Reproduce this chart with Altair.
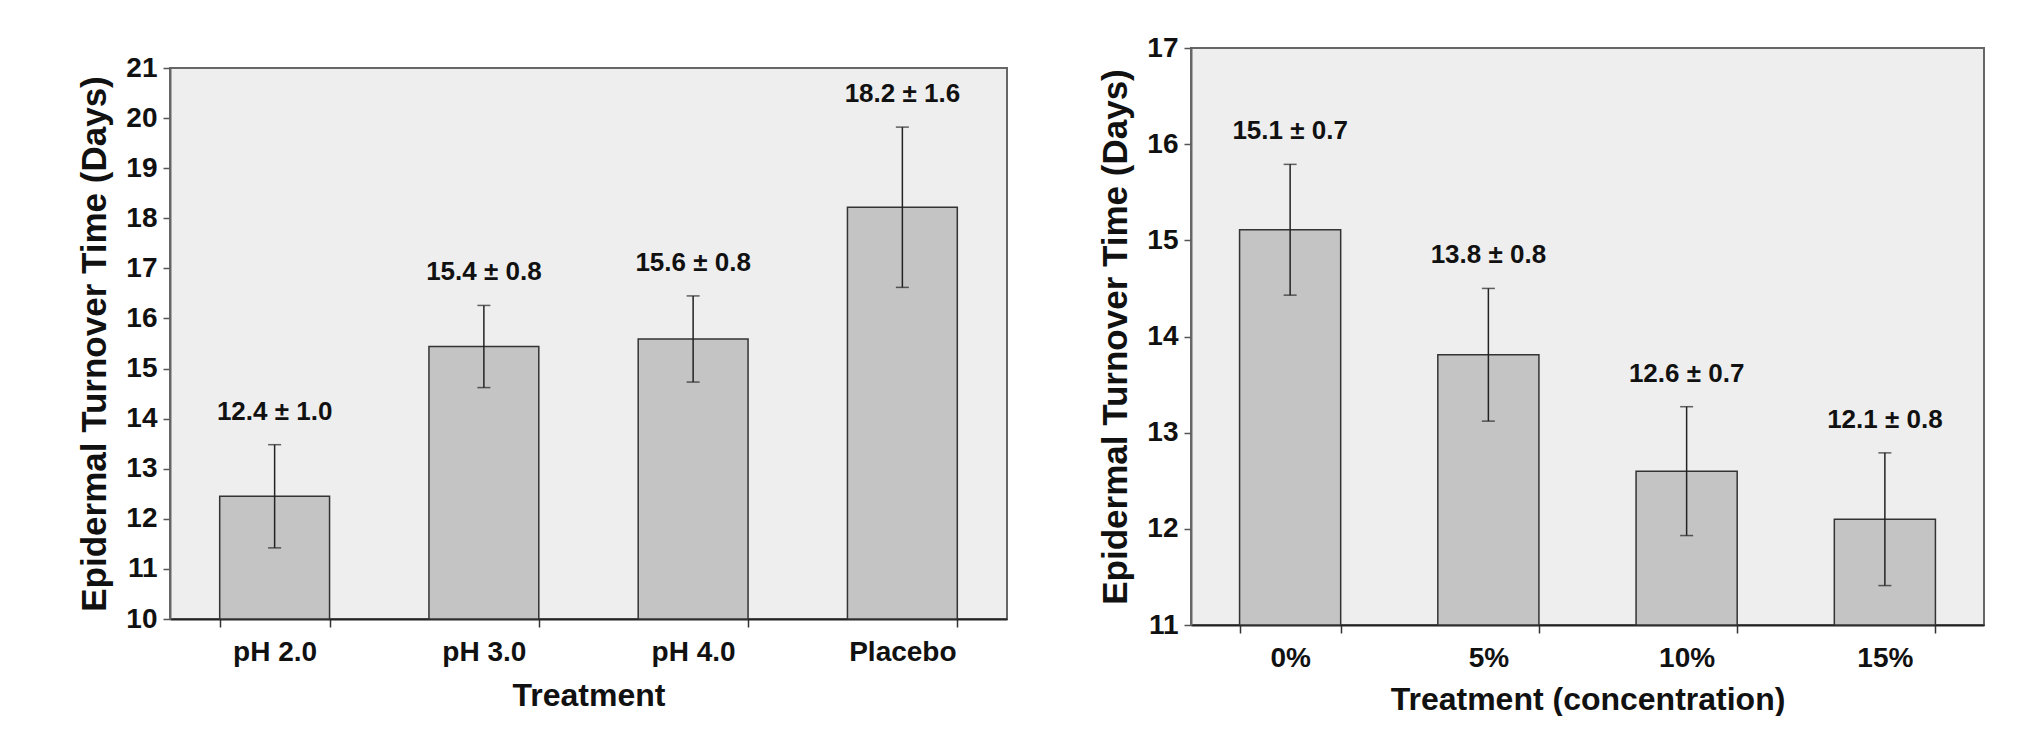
import altair as alt
import pandas as pd

FONT = "Liberation Sans"

# ---- left panel data ----
left_cats = ["pH 2.0", "pH 3.0", "pH 4.0", "Placebo"]
left_means = [12.45, 15.44, 15.59, 18.22]
left_errs = [1.03, 0.82, 0.86, 1.60]
left_labels = ["12.4 ± 1.0", "15.4 ± 0.8", "15.6 ± 0.8", "18.2 ± 1.6"]
left_ticks = [10, 11, 12, 13, 14, 15, 16, 17, 18, 19, 20, 21]

# ---- right panel data ----
right_cats = ["0%", "5%", "10%", "15%"]
right_means = [15.11, 13.81, 12.60, 12.10]
right_errs = [0.68, 0.69, 0.67, 0.69]
right_labels = ["15.1 ± 0.7", "13.8 ± 0.8", "12.6 ± 0.7", "12.1 ± 0.8"]
right_ticks = [11, 12, 13, 14, 15, 16, 17]

YTITLE = "Epidermal Turnover Time (Days)"


def panel(cats, means, errs, labels, ticks, xtitle, w, h, pad_inner, xtitle_pad):
    df = pd.DataFrame({"cat": cats, "mean": means, "err": errs, "label": labels})
    lo_d, hi_d = ticks[0], ticks[-1]
    xaxis = alt.Axis(title=xtitle, labelAngle=0, tickBand="extent", tickSize=8,
                     tickWidth=1.5, tickColor="#333333", domainColor="#222222",
                     domainWidth=2, labelPadding=11, titlePadding=xtitle_pad,
                     titleFontSize=32)
    x = alt.X("cat:N", sort=cats,
              scale=alt.Scale(paddingInner=pad_inner, paddingOuter=pad_inner / 2),
              axis=xaxis)
    yscale = alt.Scale(domain=[lo_d, hi_d], nice=False, zero=False)
    yaxis = alt.Axis(values=ticks, title=YTITLE, tickSize=7, tickWidth=1.5,
                     tickColor="#555555", domainColor="#666666", domainWidth=2,
                     labelPadding=6, titlePadding=13, titleFontSize=35)

    base = alt.Chart(df).transform_calculate(
        lo="datum.mean - datum.err", hi="datum.mean + datum.err"
    ).encode(x=x)

    bars = base.mark_bar(fill="#c4c4c4", stroke="#333333", strokeWidth=1.5).encode(
        y=alt.Y("mean:Q", scale=yscale, axis=yaxis, title=YTITLE),
        y2=alt.datum(lo_d),
    )
    rule = base.mark_rule(color="#222222", strokeWidth=1.5).encode(
        y=alt.Y("lo:Q", scale=yscale, axis=yaxis, title=YTITLE),
        y2="hi:Q",
    )
    cap_hi = base.mark_tick(size=13, thickness=1.5, color="#222222").encode(
        y=alt.Y("hi:Q", scale=yscale, axis=yaxis, title=YTITLE)
    )
    cap_lo = base.mark_tick(size=13, thickness=1.5, color="#222222").encode(
        y=alt.Y("lo:Q", scale=yscale, axis=yaxis, title=YTITLE)
    )
    text = base.mark_text(dy=-33, font=FONT, fontSize=26, fontWeight="bold",
                          color="#111111").encode(
        y=alt.Y("hi:Q", scale=yscale, axis=yaxis, title=YTITLE),
        text="label:N",
    )
    return alt.layer(bars, rule, cap_hi, cap_lo, text).properties(width=w, height=h)


left = panel(left_cats, left_means, left_errs, left_labels, left_ticks,
             "Treatment", 837, 551, 0.475, 14)
right = panel(right_cats, right_means, right_errs, right_labels, right_ticks,
              "Treatment (concentration)", 793, 577, 0.49, 12)

spacer = alt.Chart(pd.DataFrame({"a": [0]})).mark_point(opacity=0).encode(
    x=alt.value(0), y=alt.value(0)
).properties(width=10, height=1,
             view=alt.ViewBackground(fill="white", stroke="white", strokeWidth=0))

left_col = alt.vconcat(spacer, left, spacing=2)

chart = alt.hconcat(left_col, right, spacing=89).properties(
    padding={"left": 76, "top": 33, "right": 10, "bottom": 0},
    background="white",
).configure_view(
    fill="#eeeeee", stroke="#666666", strokeWidth=2
).configure_axis(
    labelFont=FONT, labelFontSize=28, labelFontWeight="bold", labelColor="#111111",
    titleFont=FONT, titleFontWeight="bold", titleColor="#111111", grid=False,
)

chart.save("out.html", embed_options={"renderer": "svg", "actions": False})
